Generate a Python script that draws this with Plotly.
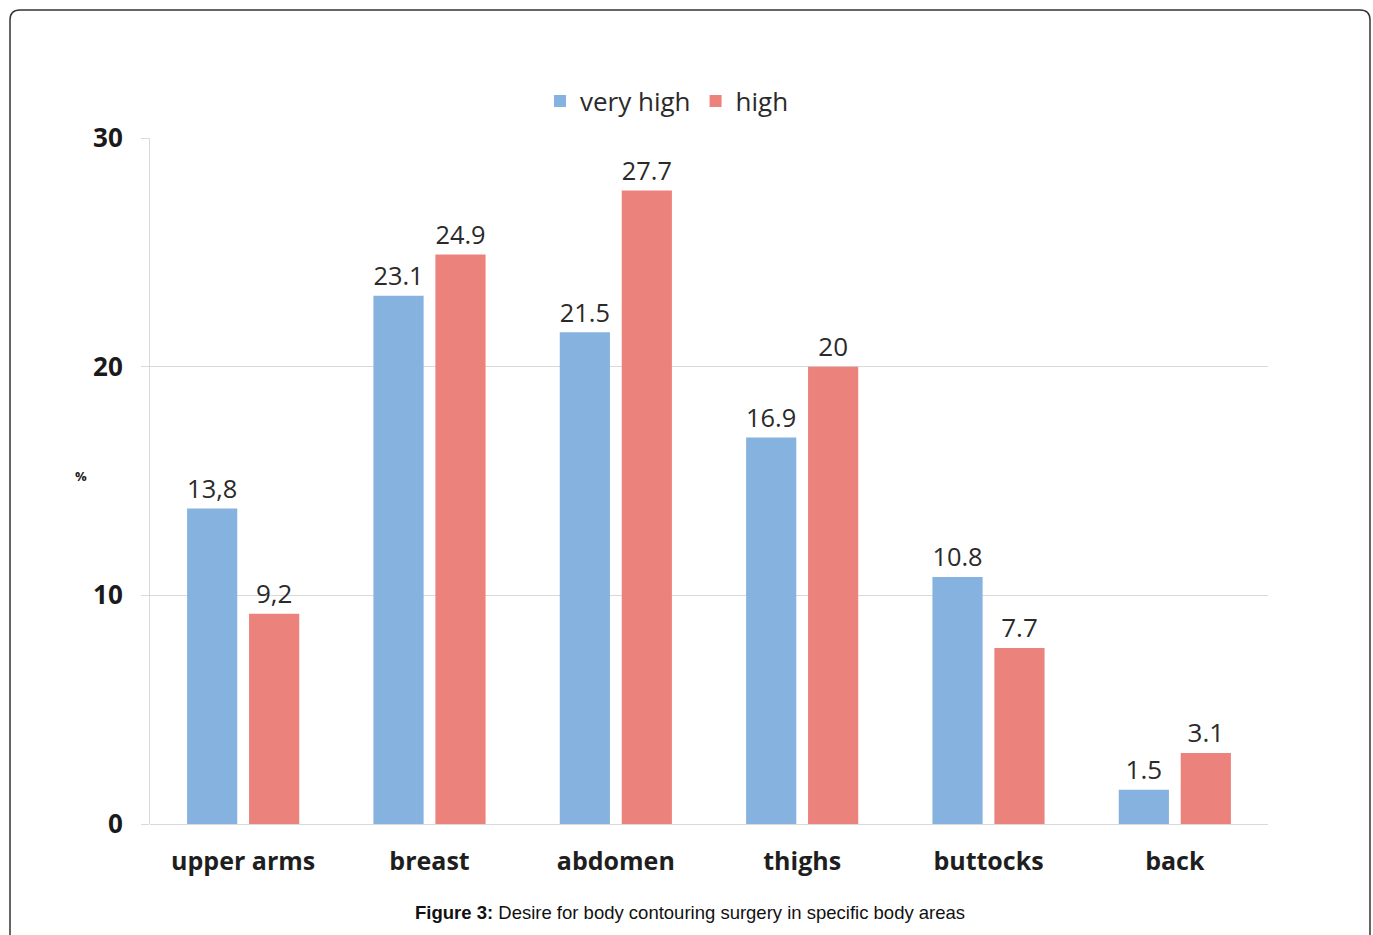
import plotly.graph_objects as go

categories = ["upper arms", "breast", "abdomen", "thighs", "buttocks", "back"]
very_high = [13.8, 23.1, 21.5, 16.9, 10.8, 1.5]
high = [9.2, 24.9, 27.7, 20, 7.7, 3.1]
very_high_labels = ["13,8", "23.1", "21.5", "16.9", "10.8", "1.5"]
high_labels = ["9,2", "24.9", "27.7", "20", "7.7", "3.1"]
y_ticks = [0, 10, 20, 30]

W, H = 1373, 935
L, R, T, B = 150, 105, 138, 111
pw, ph = W - L - R, H - T - B

def px_x(p):
    return (p - L) / pw

def px_y(p):
    return (H - B - p) / ph

FONT = "Open Sans"

fig = go.Figure()
fig.add_trace(go.Bar(
    name="very high", x=categories, y=very_high, text=very_high_labels,
    textposition="outside", cliponaxis=False,
    textfont=dict(family=FONT, size=26, color="#2a2a2a"),
    marker=dict(color="#86b2e0", line=dict(width=0)),
))
fig.add_trace(go.Bar(
    name="high", x=categories, y=high, text=high_labels,
    textposition="outside", cliponaxis=False,
    textfont=dict(family=FONT, size=26, color="#2a2a2a"),
    marker=dict(color="#ec827c", line=dict(width=0)),
))

# rounded frame
x0, x1 = px_x(10), px_x(1370)
y0, y1 = px_y(950), px_y(10)
rx, ry = 10 / pw, 10 / ph
path = (f"M {x0+rx},{y1} L {x1-rx},{y1} Q {x1},{y1} {x1},{y1-ry} "
        f"L {x1},{y0} L {x0},{y0} L {x0},{y1-ry} Q {x0},{y1} {x0+rx},{y1} Z")

fig.update_layout(
    width=W, height=H,
    margin=dict(l=L, r=R, t=T, b=B),
    paper_bgcolor="white", plot_bgcolor="white",
    barmode="group", bargap=0.335, bargroupgap=0.19,
    showlegend=True,
    legend=dict(orientation="h", x=px_x(540), xanchor="left", y=px_y(101), yanchor="middle",
                font=dict(family=FONT, size=26, color="#2a2a2a"),
                itemwidth=30, bgcolor="rgba(0,0,0,0)"),
    xaxis=dict(showgrid=False, showline=False, ticks="",
               tickfont=dict(family=FONT, size=25, color="#1e1e1e", weight="bold"),
               ticklabelstandoff=20),
    yaxis=dict(range=[0, 30], tickvals=y_ticks, showgrid=True, gridcolor="#d9d9d9", gridwidth=1,
               showline=True, linecolor="#d9d9d9", linewidth=1,
               ticks="outside", ticklen=8, tickcolor="#d9d9d9",
               zeroline=True, zerolinecolor="#d9d9d9", zerolinewidth=1,
               tickfont=dict(family=FONT, size=26, color="#1a1a1a", weight="bold"),
               ticklabelstandoff=13),
    shapes=[dict(type="path", xref="paper", yref="paper", path=path,
                 line=dict(color="#333333", width=1.5), fillcolor="rgba(0,0,0,0)", layer="above")],
    annotations=[
        dict(text="%", xref="paper", yref="paper", x=px_x(73), y=px_y(476),
             showarrow=False, font=dict(family=FONT, size=13, color="#1a1a1a", weight="bold")),
        dict(text="<b>Figure 3:</b> Desire for body contouring surgery in specific body areas",
             xref="paper", yref="paper", x=px_x(690), y=px_y(925), showarrow=False,
             font=dict(family="Liberation Sans, Arial", size=18.5, color="#111")),
    ],
)

fig.write_html("out.html", config={"displayModeBar": False},
               post_script="document.body.style.margin='0';document.body.style.overflow='hidden';")
